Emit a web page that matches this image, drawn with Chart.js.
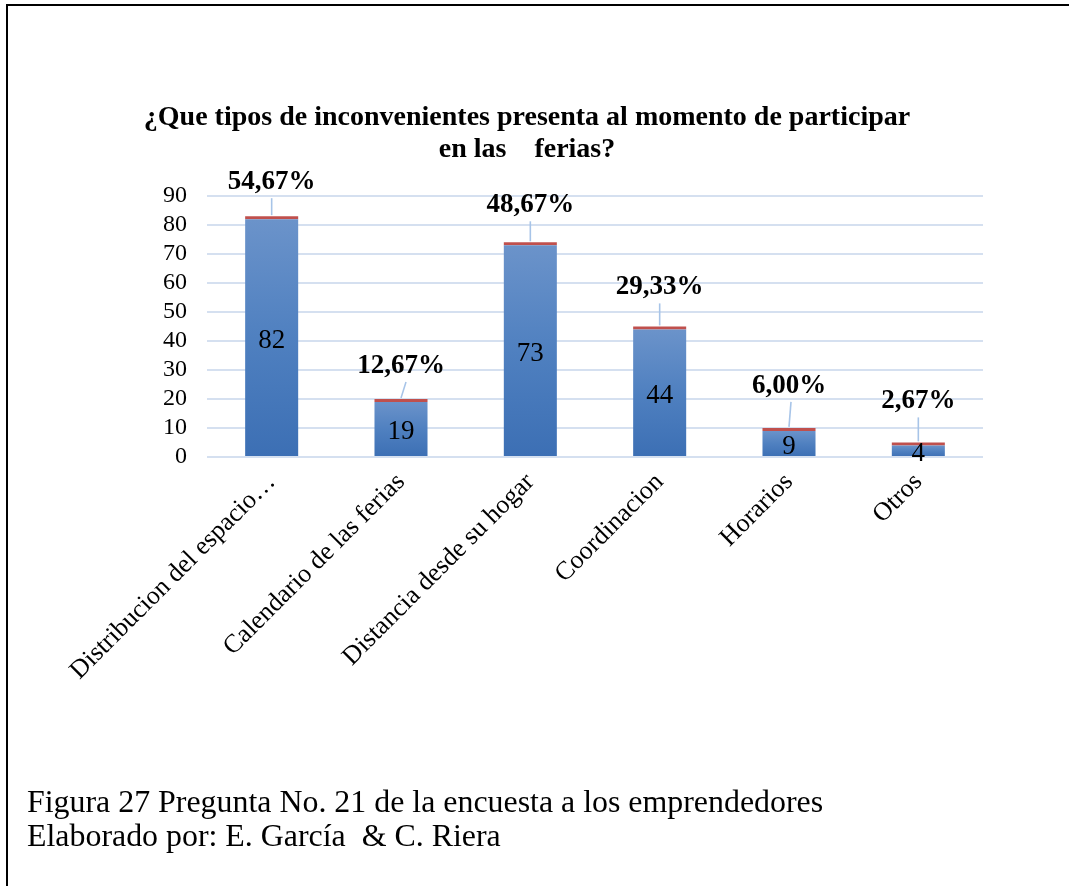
<!DOCTYPE html>
<html>
<head>
<meta charset="utf-8">
<style>
html,body{margin:0;padding:0;background:#fff;width:1069px;height:886px;overflow:hidden;}
#frame{position:absolute;left:6px;top:4px;width:1200px;height:1000px;border-top:2px solid #000;border-left:2px solid #000;}
#wrap{position:absolute;left:0;top:0;width:1069px;height:886px;}
.cap{position:absolute;left:27px;font-family:"Liberation Serif","Times New Roman",serif;font-size:31.9px;line-height:34px;color:#000;white-space:pre;}
</style>
<script src="https://cdn.jsdelivr.net/npm/chart.js@4.4.1/dist/chart.umd.min.js"></script>
</head>
<body>
<div id="frame"></div>
<div id="wrap"><canvas id="c" width="1069" height="886"></canvas></div>
<div class="cap" style="top:785px">Figura 27 Pregunta No. 21 de la encuesta a los emprendedores</div>
<div class="cap" style="top:819px">Elaborado por: E. García  &amp; C. Riera</div>
<script>
// ---- data ----
const titleLines = ["¿Que tipos de inconvenientes presenta al momento de participar", "en las    ferias?"];
const categories = ["Distribucion del espacio…", "Calendario de las ferias", "Distancia desde su hogar", "Coordinacion", "Horarios", "Otros"];
const counts = [82, 19, 73, 44, 9, 4];
const shares = [0.5467, 0.1267, 0.4867, 0.2933, 0.0600, 0.0267];
const yMin = 0, yMax = 90, yStep = 10;

const SERIF = '"Liberation Serif", "Times New Roman", serif';

function fmtPct(v) {
  return (v * 100).toFixed(2).replace('.', ',') + '%';
}

function barGradient(ctx) {
  const chart = ctx.chart;
  const ys = chart.scales && chart.scales.y;
  if (!ys || ctx.raw == null) return '#4f81bd';
  const top = ys.getPixelForValue(ctx.raw);
  const bottom = ys.getPixelForValue(0);
  if (!isFinite(top) || !isFinite(bottom) || bottom - top < 1) return '#4f81bd';
  const g = chart.ctx.createLinearGradient(0, top, 0, bottom);
  g.addColorStop(0, '#6b93ca');
  g.addColorStop(0.5, '#4f80c0');
  g.addColorStop(1, '#3c6fb4');
  return g;
}

const labelPlugin = {
  id: 'barLabels',
  afterDatasetsDraw(chart, args, opts) {
    const c = chart.ctx;
    const m0 = chart.getDatasetMeta(0);
    const m1 = chart.getDatasetMeta(1);
    c.save();
    c.textAlign = 'center';
    c.textBaseline = 'middle';
    m0.data.forEach((bar, i) => {
      c.font = '27px ' + SERIF;
      c.fillStyle = '#000';
      c.fillText(String(counts[i]), bar.x, (bar.y + bar.base) / 2 + 3);
    });
    m1.data.forEach((seg, i) => {
      const top = seg.y;
      const ly = top - opts.offsets[i];
      c.strokeStyle = '#a7c4e8';
      c.lineWidth = 1.6;
      c.beginPath();
      c.moveTo(seg.x + opts.lead[i], ly + 17);
      c.lineTo(seg.x, top - 1);
      c.stroke();
      c.font = 'bold 27px ' + SERIF;
      c.fillStyle = '#000';
      c.fillText(fmtPct(shares[i]), seg.x, ly + 1);
    });
    c.restore();
  }
};

new Chart(document.getElementById('c'), {
  type: 'bar',
  data: {
    labels: categories,
    datasets: [
      {
        label: 'Cantidad',
        data: counts,
        backgroundColor: barGradient,
        borderWidth: 0,
        barPercentage: 0.41,
        categoryPercentage: 1
      },
      {
        label: 'Porcentaje',
        data: shares,
        backgroundColor: '#c0504d',
        borderWidth: 0,
        minBarLength: 3,
        barPercentage: 0.41,
        categoryPercentage: 1
      }
    ]
  },
  options: {
    responsive: false,
    animation: false,
    devicePixelRatio: 1,
    layout: { padding: { left: 71, right: 86, top: 0, bottom: 0 } },
    plugins: {
      legend: { display: false },
      tooltip: { enabled: false },
      title: {
        display: true,
        text: titleLines,
        color: '#000',
        font: { family: SERIF, size: 28, weight: 'bold', lineHeight: 32 / 28 },
        padding: { top: 102, bottom: 30 }
      },
      barLabels: {
        offsets: [35, 34, 38, 40, 43, 42],
        lead: [0, 5, 0, 0, 2, 0]
      }
    },
    scales: {
      x: {
        stacked: true,
        grid: { display: false },
        border: { display: false },
        ticks: {
          autoSkip: false,
          minRotation: 45,
          maxRotation: 45,
          padding: 2,
          color: '#000',
          font: { family: SERIF, size: 26 }
        },
        afterFit(scale) { scale.height = 886 - 457; }
      },
      y: {
        stacked: true,
        min: yMin,
        max: yMax,
        grid: { color: '#d5e0f0', lineWidth: 2, drawTicks: false },
        border: { display: false },
        ticks: {
          stepSize: yStep,
          autoSkip: false,
          padding: 20,
          color: '#000',
          font: { family: SERIF, size: 24, lineHeight: 1 }
        },
        afterFit(scale) { scale.width = 207 - 71; }
      }
    }
  },
  plugins: [labelPlugin]
});
</script>
</body>
</html>
